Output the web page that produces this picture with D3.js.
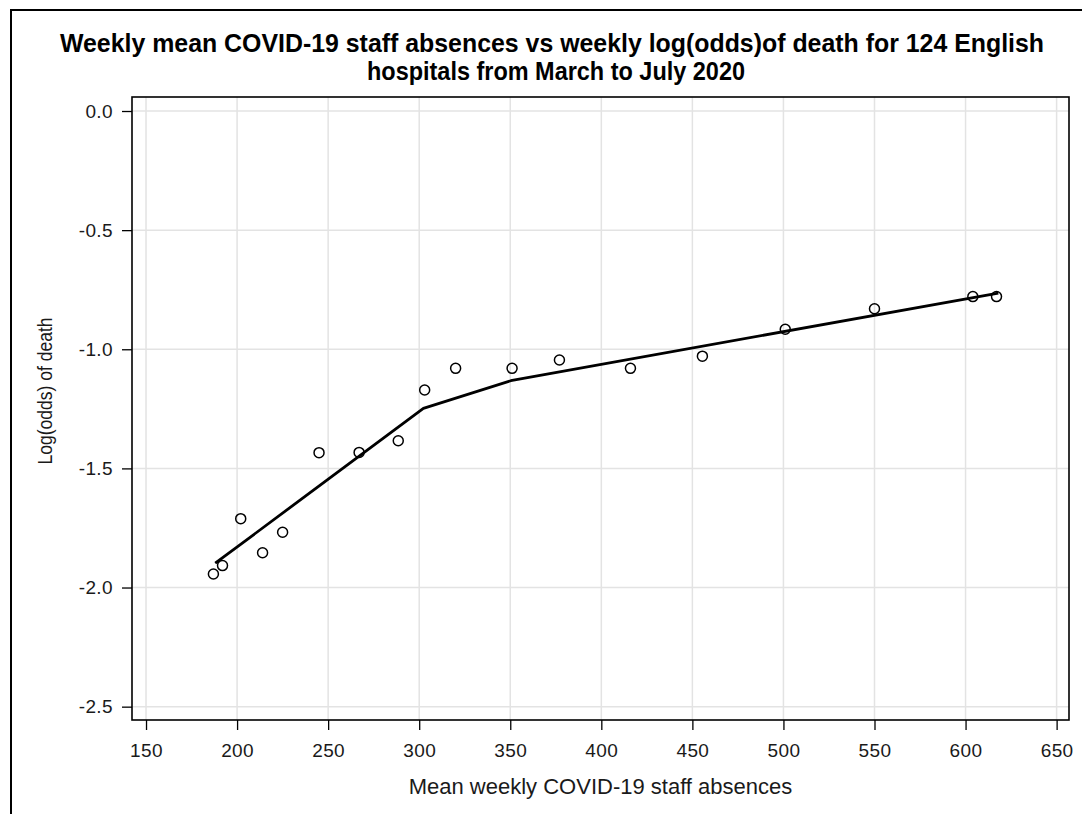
<!DOCTYPE html>
<html>
<head>
<meta charset="utf-8">
<script src="https://cdn.jsdelivr.net/npm/d3@7"></script>
<style>
  html, body { margin: 0; padding: 0; background: #fff; }
  svg { display: block; font-family: "Liberation Sans", Arial, sans-serif; }
</style>
</head>
<body>
<svg id="chart" width="1082" height="814"></svg>
<script>
// ---- data ----
const titleLines = [
  "Weekly mean COVID-19 staff absences vs weekly log(odds)of death for 124 English",
  "hospitals from March to July 2020"
];
const xLabel = "Mean weekly COVID-19 staff absences";
const yLabel = "Log(odds) of death";

const absences = [187, 192, 202, 214, 225, 245, 267, 288.5, 303, 320, 351, 377, 416, 455.5, 501, 550, 604, 617];
const logOdds  = [-1.943, -1.908, -1.711, -1.854, -1.768, -1.434, -1.433, -1.384, -1.171, -1.080, -1.080, -1.045, -1.080, -1.029, -0.916, -0.830, -0.779, -0.779];

const fitX = [188, 302.3, 350.3, 618];
const fitY = [-1.898, -1.248, -1.132, -0.764];

const xTicks = [150, 200, 250, 300, 350, 400, 450, 500, 550, 600, 650];
const yTicks = [0, -0.5, -1.0, -1.5, -2.0, -2.5];

// ---- layout ----
const W = 1082, H = 814;
const frame = { left: 132, right: 1069, top: 97, bottom: 720 };

const svg = d3.select("#chart");

const x = d3.scaleLinear().domain([142.3, 656.8]).range([frame.left, frame.right]);
const y = d3.scaleLinear().domain([0.0588, -2.556]).range([frame.top, frame.bottom]);

const fmtY = v => d3.format(".1f")(v).replace("\u2212", "-");

// outer border (only top & left visible)
svg.append("rect")
  .attr("x", 11).attr("y", 10)
  .attr("width", W + 20).attr("height", H + 20)
  .attr("fill", "none").attr("stroke", "#000").attr("stroke-width", 2);

// title
const titleG = svg.append("g");
titleG.append("text")
  .attr("x", 552).attr("y", 52)
  .attr("text-anchor", "middle")
  .attr("font-weight", "bold").attr("font-size", 25)
  .attr("fill", "#000")
  .attr("textLength", 984).attr("lengthAdjust", "spacingAndGlyphs")
  .text(titleLines[0]);
titleG.append("text")
  .attr("x", 556).attr("y", 80)
  .attr("text-anchor", "middle")
  .attr("font-weight", "bold").attr("font-size", 25)
  .attr("fill", "#000")
  .attr("textLength", 378).attr("lengthAdjust", "spacingAndGlyphs")
  .text(titleLines[1]);

// gridlines
const grid = svg.append("g");
grid.selectAll("line.gx").data(xTicks).enter().append("line")
  .attr("class", "gx")
  .attr("x1", d => x(d)).attr("x2", d => x(d))
  .attr("y1", frame.top).attr("y2", frame.bottom)
  .attr("stroke", "#e3e3e3").attr("stroke-width", 1.5);
grid.selectAll("line.gy").data(yTicks).enter().append("line")
  .attr("class", "gy")
  .attr("x1", frame.left).attr("x2", frame.right)
  .attr("y1", d => y(d)).attr("y2", d => y(d))
  .attr("stroke", "#e3e3e3").attr("stroke-width", 1.5);

// axes
const xAxis = svg.append("g")
  .attr("transform", `translate(0,${frame.bottom})`)
  .call(d3.axisBottom(x).tickValues(xTicks).tickSize(10).tickPadding(13.5).tickFormat(d3.format("d")));
const yAxis = svg.append("g")
  .attr("transform", `translate(${frame.left},0)`)
  .call(d3.axisLeft(y).tickValues(yTicks).tickSize(10).tickPadding(9).tickFormat(fmtY));

[xAxis, yAxis].forEach(a => {
  a.select(".domain").remove();
  a.selectAll(".tick line").attr("stroke", "#000").attr("stroke-width", 1.3);
  a.selectAll(".tick text")
    .attr("fill", "#1a1a1a")
    .attr("font-size", 19)
    .attr("letter-spacing", 0.4)
    .attr("font-family", "\"Liberation Sans\", Arial, sans-serif");
});

// frame
svg.append("rect")
  .attr("x", frame.left).attr("y", frame.top)
  .attr("width", frame.right - frame.left).attr("height", frame.bottom - frame.top)
  .attr("fill", "none").attr("stroke", "#000").attr("stroke-width", 1.6);

// axis labels
svg.append("text")
  .attr("x", (frame.left + frame.right) / 2).attr("y", 794)
  .attr("text-anchor", "middle").attr("font-size", 22).attr("fill", "#1a1a1a")
  .text(xLabel);
svg.append("text")
  .attr("transform", "translate(52,391) rotate(-90)")
  .attr("text-anchor", "middle").attr("font-size", 20).attr("fill", "#1a1a1a")
  .attr("textLength", 147).attr("lengthAdjust", "spacingAndGlyphs")
  .text(yLabel);

// fit line
const pts = fitX.map((v, i) => [v, fitY[i]]);
svg.append("path")
  .datum(pts)
  .attr("d", d3.line().x(d => x(d[0])).y(d => y(d[1])))
  .attr("fill", "none").attr("stroke", "#000").attr("stroke-width", 2.8)
  .attr("stroke-linejoin", "round");

// markers
svg.append("g").selectAll("circle")
  .data(absences.map((v, i) => [v, logOdds[i]]))
  .enter().append("circle")
  .attr("cx", d => x(d[0])).attr("cy", d => y(d[1]))
  .attr("r", 5)
  .attr("fill", "none").attr("stroke", "#000").attr("stroke-width", 1.5);
</script>
</body>
</html>
